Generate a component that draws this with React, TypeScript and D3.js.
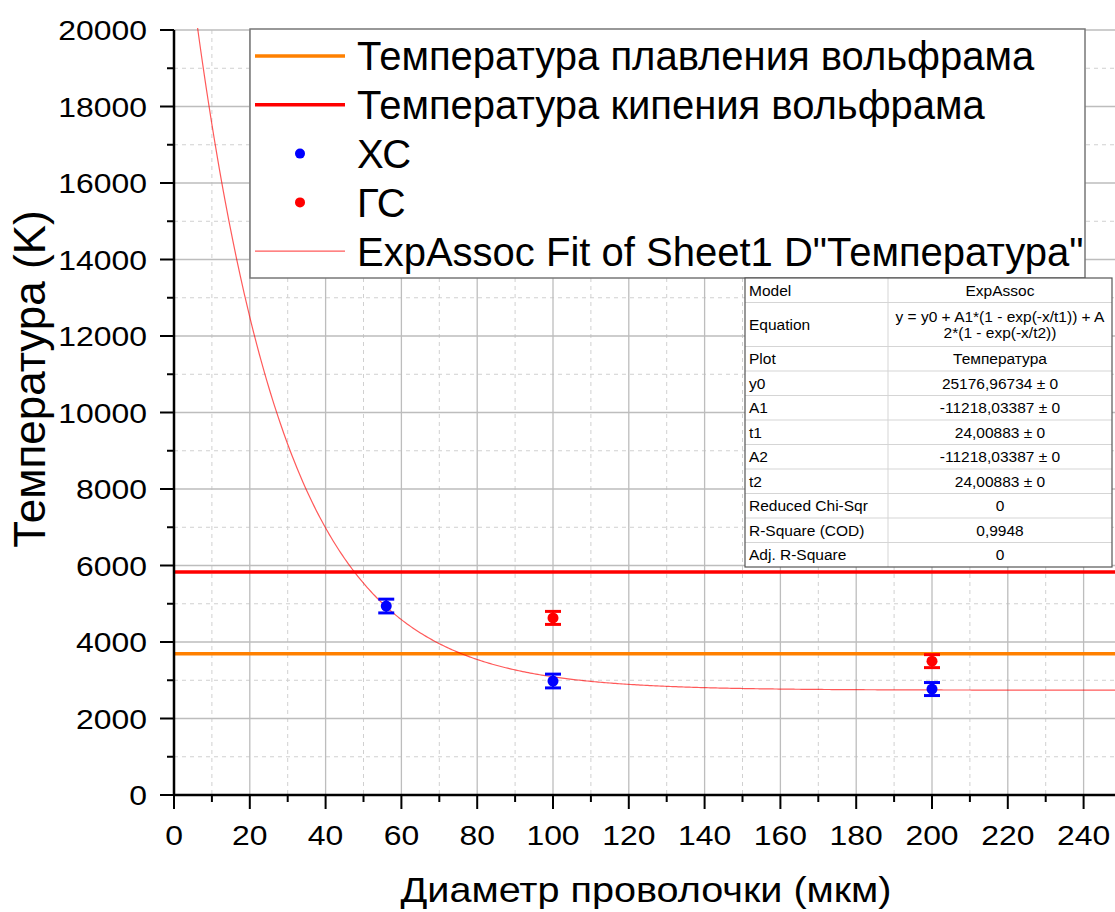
import React from "react";
import * as d3 from "d3";

// measured points: diameter (мкм), temperature (K), error
const xcX = [56, 100, 200];
const xcY = [4940, 2980, 2770];
const xcErr = [180, 180, 170];

const gcX = [100, 200];
const gcY = [4630, 3500];
const gcErr = [170, 170];

const meltT = 3695;
const boilT = 5828;

// ExpAssoc fit parameters (from the table)
const fitY0 = 25176.96734;
const fitA1 = -11218.03387;
const fitT1 = 24.00883;
const fitA2 = -11218.03387;
const fitT2 = 24.00883;

const xTicks = d3.range(0, 241, 20);
const xMinor = d3.range(10, 250, 20);
const yTicks = d3.range(0, 20001, 2000);
const yMinor = d3.range(1000, 20000, 2000);

const legendItems = [
  { label: "Температура плавления вольфрама", kind: "line", color: "#ff8000" },
  { label: "Температура кипения вольфрама", kind: "line", color: "#ff0000" },
  { label: "ХС", kind: "dot", color: "#0000ff" },
  { label: "ГС", kind: "dot", color: "#ff0000" },
  { label: "ExpAssoc Fit of Sheet1 D\"Температура\"", kind: "thin", color: "#ff0000" },
];

const tableRows: [string, string[]][] = [
  ["Model", ["ExpAssoc"]],
  ["Equation", ["y = y0 + A1*(1 - exp(-x/t1)) + A", "2*(1 - exp(-x/t2))"]],
  ["Plot", ["Температура"]],
  ["y0", ["25176,96734 ± 0"]],
  ["A1", ["-11218,03387 ± 0"]],
  ["t1", ["24,00883 ± 0"]],
  ["A2", ["-11218,03387 ± 0"]],
  ["t2", ["24,00883 ± 0"]],
  ["Reduced Chi-Sqr", ["0"]],
  ["R-Square (COD)", ["0,9948"]],
  ["Adj. R-Square", ["0"]],
];

const W = 1115;
const H = 912;
const left = 174;
const top = 30;
const bottom = 795;
const font = "'Liberation Sans', Arial, sans-serif";

export default function App() {
  const x = d3.scaleLinear().domain([0, 250]).range([left, left + 250 * 3.79]);
  const y = d3.scaleLinear().domain([0, 20000]).range([bottom, top]);
  const right = W;

  const fit = (v: number) =>
    fitY0 + fitA1 * (1 - Math.exp(-v / fitT1)) + fitA2 * (1 - Math.exp(-v / fitT2));
  const fitXs = d3.range(0.5, 250.01, 0.5);
  const fitLine = d3
    .line<number>()
    .x((d) => x(d))
    .y((d) => y(fit(d)));

  const errBar = (cx: number, cy: number, e: number, color: string, key: string) => (
    <g key={key}>
      <line x1={x(cx)} x2={x(cx)} y1={y(cy - e)} y2={y(cy + e)} stroke={color} strokeWidth={2} />
      <line x1={x(cx) - 8} x2={x(cx) + 8} y1={y(cy - e)} y2={y(cy - e)} stroke={color} strokeWidth={3} />
      <line x1={x(cx) - 8} x2={x(cx) + 8} y1={y(cy + e)} y2={y(cy + e)} stroke={color} strokeWidth={3} />
      <circle cx={x(cx)} cy={y(cy)} r={5.5} fill={color} />
    </g>
  );

  // table layout
  const tX = 745;
  const tY = 278;
  const tW = 367;
  const colSplit = 888;
  const rowH = (r: [string, string[]]) => (r[1].length > 1 ? 44 : 24.5);
  let acc = tY;
  const rowTops = tableRows.map((r) => {
    const t = acc;
    acc += rowH(r);
    return t;
  });
  const tH = acc - tY;

  const lgX = 250;
  const lgY = 29;

  return (
    <svg
      width={W}
      height={H}
      style={{ position: "absolute", left: 0, top: 0, background: "#fff" }}
      fontFamily={font}
    >
      <defs>
        <clipPath id="plot">
          <rect x={left} y={top - 2} width={right - left} height={bottom - top + 2} />
        </clipPath>
      </defs>

      {/* grid */}
      <g>
        {xMinor.map((t) => (
          <line key={"xm" + t} x1={x(t)} x2={x(t)} y1={top} y2={bottom} stroke="#d0d0d0" strokeDasharray="4,4" />
        ))}
        {yMinor.map((t) => (
          <line key={"ym" + t} x1={left} x2={right} y1={y(t)} y2={y(t)} stroke="#d0d0d0" strokeDasharray="4,4" />
        ))}
        {xTicks.map((t) => (
          <line key={"xg" + t} x1={x(t)} x2={x(t)} y1={top} y2={bottom} stroke="#bdbdbd" strokeWidth={1.3} />
        ))}
        {yTicks.map((t) => (
          <line key={"yg" + t} x1={left} x2={right} y1={y(t)} y2={y(t)} stroke="#bdbdbd" strokeWidth={1.3} />
        ))}
      </g>

      <g clipPath="url(#plot)">
        <line x1={left} x2={right} y1={y(meltT)} y2={y(meltT)} stroke="#ff8000" strokeWidth={3.5} />
        <line x1={left} x2={right} y1={y(boilT)} y2={y(boilT)} stroke="#ff0000" strokeWidth={3.5} />
        <path d={fitLine(fitXs) || ""} fill="none" stroke="#ff0000" strokeOpacity={0.65} strokeWidth={1.2} />
        {xcX.map((v, i) => errBar(v, xcY[i], xcErr[i], "#0000ff", "xc" + i))}
        {gcX.map((v, i) => errBar(v, gcY[i], gcErr[i], "#ff0000", "gc" + i))}
      </g>

      {/* axes */}
      <line x1={left} x2={left} y1={top} y2={bottom + 1} stroke="#000" strokeWidth={2.5} />
      <line x1={left - 1} x2={right} y1={bottom} y2={bottom} stroke="#000" strokeWidth={2.5} />
      {yTicks.map((t) => (
        <g key={"yt" + t}>
          <line x1={left - 14} x2={left} y1={y(t)} y2={y(t)} stroke="#000" strokeWidth={2} />
          <text
            transform={`translate(147, ${y(t)}) scale(1.12, 1)`}
            dy="0.36em"
            textAnchor="end"
            fontSize={28.5}
            fill="#000"
          >
            {t}
          </text>
        </g>
      ))}
      {yMinor.map((t) => (
        <line key={"ymt" + t} x1={left - 7} x2={left} y1={y(t)} y2={y(t)} stroke="#000" strokeWidth={2} />
      ))}
      {xTicks.map((t) => (
        <g key={"xt" + t}>
          <line x1={x(t)} x2={x(t)} y1={bottom} y2={bottom + 14} stroke="#000" strokeWidth={2} />
          <text
            transform={`translate(${x(t)}, 845) scale(1.12, 1)`}
            textAnchor="middle"
            fontSize={28.5}
            fill="#000"
          >
            {t}
          </text>
        </g>
      ))}
      {xMinor.map((t) => (
        <line key={"xmt" + t} x1={x(t)} x2={x(t)} y1={bottom} y2={bottom + 7} stroke="#000" strokeWidth={2} />
      ))}

      <text
        transform="translate(646, 902) scale(1.1, 1)"
        textAnchor="middle"
        fontSize={36}
        fill="#000"
      >
        Диаметр проволочки (мкм)
      </text>
      <text
        transform={`translate(45, 379) rotate(-90)`}
        textAnchor="middle"
        fontSize={44}
        fill="#000"
      >
        Температура (K)
      </text>

      {/* legend */}
      <rect x={lgX} y={lgY} width={835} height={249} fill="#fff" stroke="#777" strokeWidth={1.5} />
      {legendItems.map((it, i) => {
        const cy = 56 + i * 48.8;
        return (
          <g key={"lg" + i}>
            {it.kind === "line" && (
              <line x1={255} x2={345} y1={cy} y2={cy} stroke={it.color} strokeWidth={3.5} />
            )}
            {it.kind === "thin" && (
              <line x1={255} x2={345} y1={cy} y2={cy} stroke={it.color} strokeOpacity={0.65} strokeWidth={1.2} />
            )}
            {it.kind === "dot" && <circle cx={300} cy={cy} r={5} fill={it.color} />}
            <text x={357} y={cy} dy="0.36em" fontSize={40} fill="#000">
              {it.label}
            </text>
          </g>
        );
      })}

      {/* fit table */}
      <rect x={tX} y={tY} width={tW} height={tH} fill="#fff" />
      {tableRows.map((r, i) => {
        const rt = rowTops[i];
        const h = rowH(r);
        const cy = rt + h / 2;
        return (
          <g key={"tr" + i} fontSize={15.5} fill="#000">
            {i > 0 && <line x1={tX} x2={tX + tW} y1={rt} y2={rt} stroke="#d5d5d5" />}
            <text x={tX + 4} y={cy} dy="0.36em">
              {r[0]}
            </text>
            {r[1].map((s, j) => (
              <text
                key={j}
                x={(colSplit + tX + tW) / 2}
                y={cy + (j - (r[1].length - 1) / 2) * 16}
                dy="0.36em"
                textAnchor="middle"
              >
                {s}
              </text>
            ))}
          </g>
        );
      })}
      <line x1={colSplit} x2={colSplit} y1={tY} y2={tY + tH} stroke="#d5d5d5" />
      <rect x={tX} y={tY} width={tW} height={tH} fill="none" stroke="#555" strokeWidth={1.2} />
    </svg>
  );
}
